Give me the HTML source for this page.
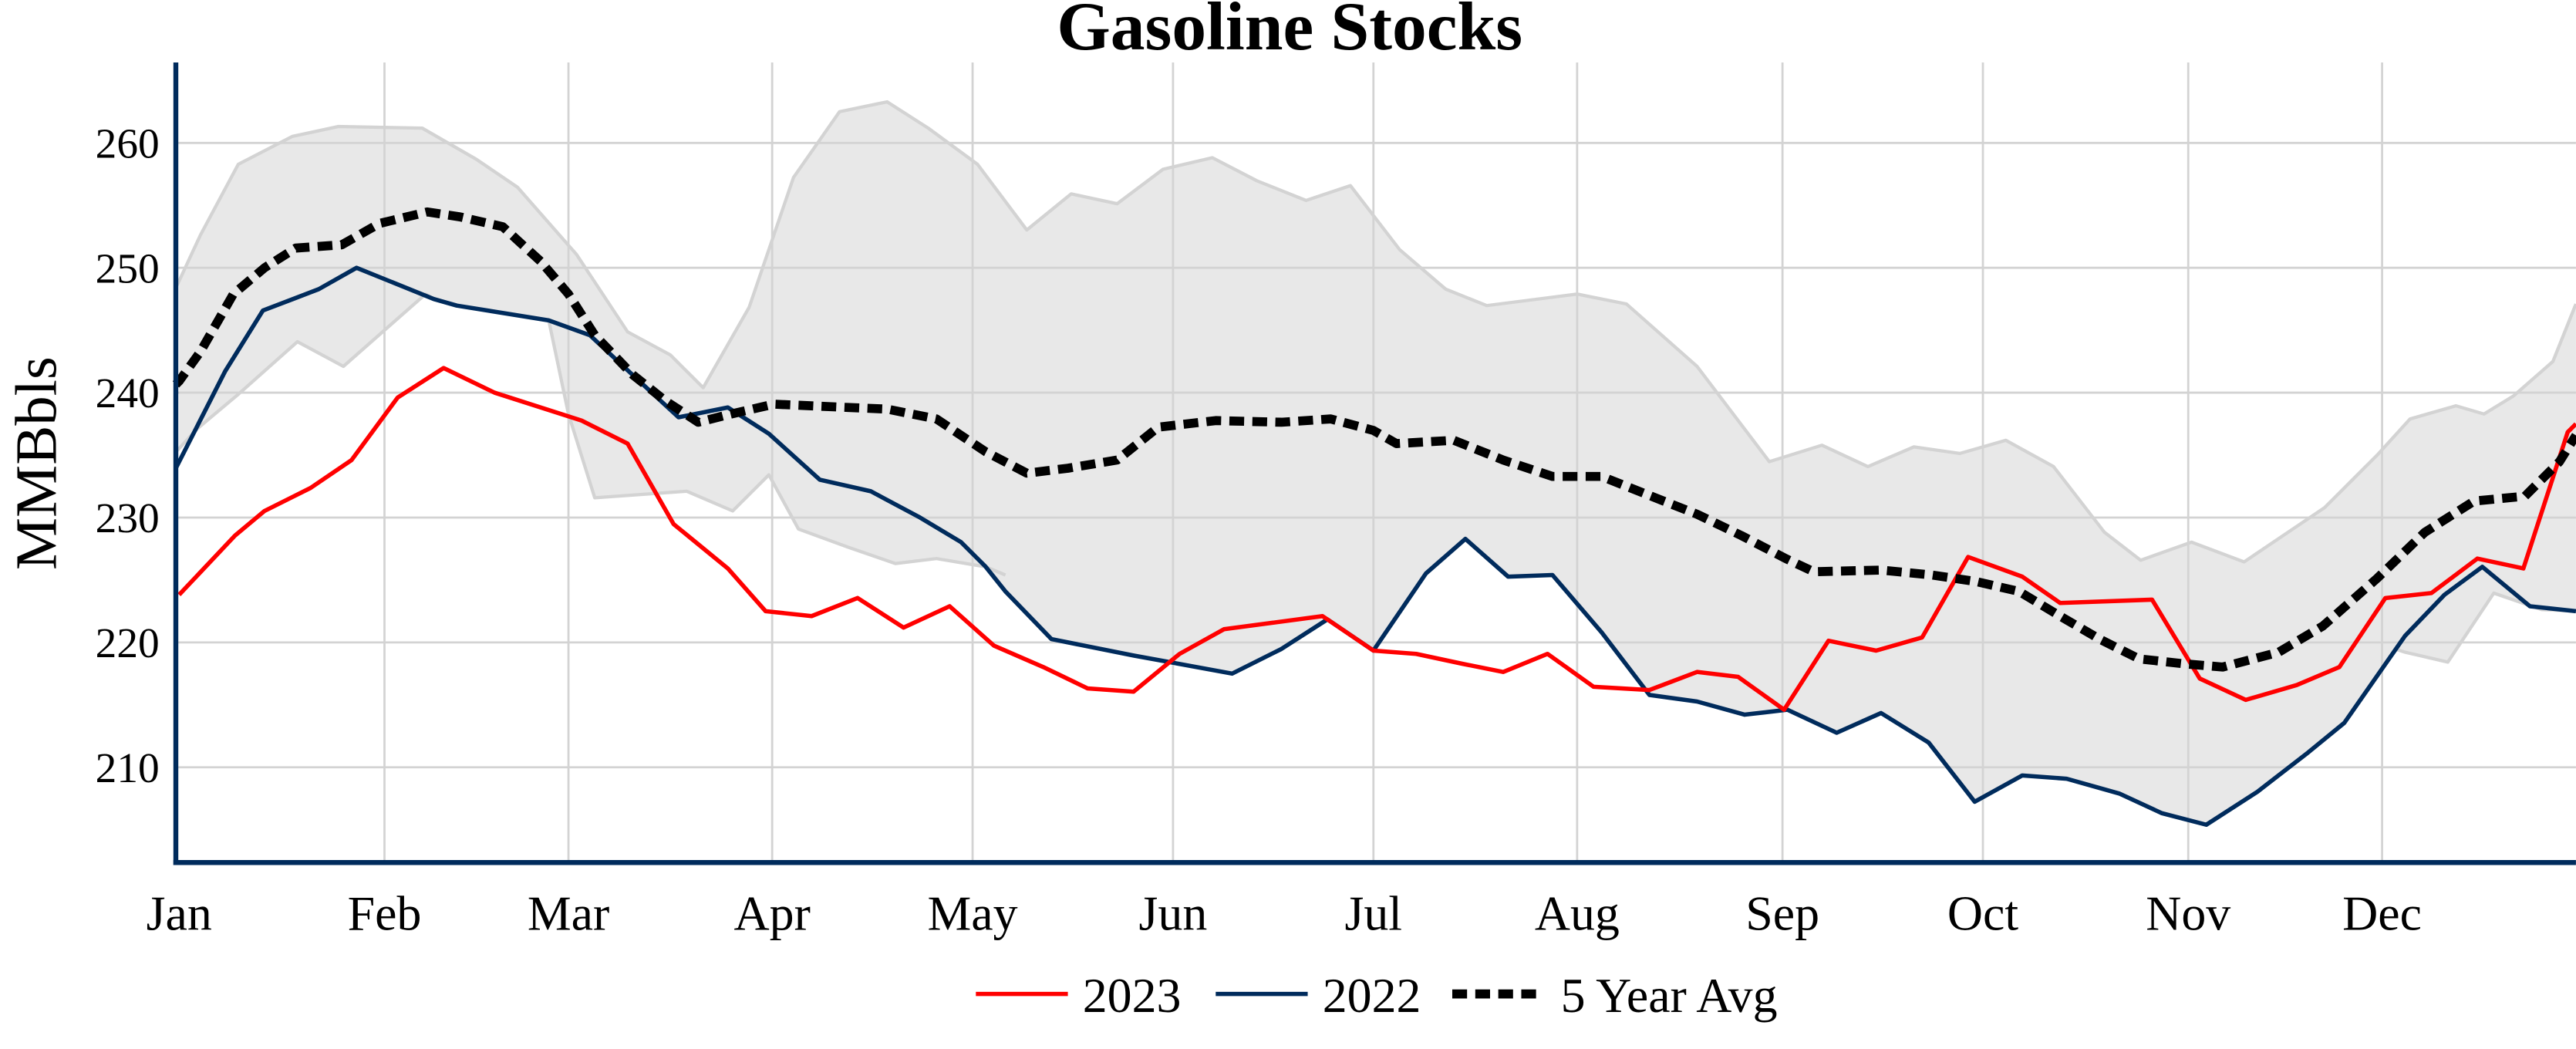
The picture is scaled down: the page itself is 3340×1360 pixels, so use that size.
<!DOCTYPE html>
<html><head><meta charset="utf-8"><style>html,body{margin:0;padding:0;background:#fff}svg{display:block}</style></head>
<body>
<svg width="3340" height="1360" viewBox="0 0 1568 638.5" xmlns="http://www.w3.org/2000/svg" font-family="Liberation Serif, serif">
<rect width="1568" height="638.5" fill="#fff"/>
<!-- band -->
<polygon fill="#e8e8e8" stroke="none" points="109,171 122,143 145,100 178,83 206,77 257,78 290,97 315,114 351,155 382,202 408,216 428,236 456,187 483,108 511,68 540,62 565,78 595,100 625,140 652,118 680,124 708,103 738,96 765,110 795,122 822,113 852,152 880,176 905,186 960,179 990,185 1033,223 1077,281 1109,271 1137,284 1165,272 1193,276 1221,268 1250,284 1281,324 1303,341 1334,330 1366,342 1415,309 1447,277 1467,255 1495,247 1512,252 1530,241 1554,220 1568,185 1568,372 1547,371 1518,361 1490,403 1464,397 1458,395 1427,440 1405,458 1374,482 1343,502 1316,495 1290,483 1258,474 1231,472 1202,488 1174,452 1145,434 1118,446 1088,432 1062,435 1033,427 1004,423 975,385 945,350 918,351 892,328 868,349 836,396 808,377 780,395 750,410 690,399 640,389 612,360 600,345 570,340 545,343 516,333 486,322 468,289 446,311 418,299 362,303 346,252 334,195 278,186 264,182 259,179 209,223 181,208 145,240 120,261 109,273"/>
<!-- grid -->
<g stroke="#d3d3d3" stroke-width="1.3">
<line x1="107" x2="1568" y1="87" y2="87"/><line x1="107" x2="1568" y1="163" y2="163"/><line x1="107" x2="1568" y1="239" y2="239"/><line x1="107" x2="1568" y1="315" y2="315"/><line x1="107" x2="1568" y1="391" y2="391"/><line x1="107" x2="1568" y1="467" y2="467"/>
<line x1="234" x2="234" y1="38" y2="525"/><line x1="346" x2="346" y1="38" y2="525"/><line x1="470" x2="470" y1="38" y2="525"/><line x1="592" x2="592" y1="38" y2="525"/><line x1="714" x2="714" y1="38" y2="525"/><line x1="836" x2="836" y1="38" y2="525"/><line x1="960" x2="960" y1="38" y2="525"/><line x1="1085" x2="1085" y1="38" y2="525"/><line x1="1207" x2="1207" y1="38" y2="525"/><line x1="1332" x2="1332" y1="38" y2="525"/><line x1="1450" x2="1450" y1="38" y2="525"/>
</g>
<!-- band edges -->
<g fill="none" stroke="#d3d3d3" stroke-width="2" stroke-linejoin="round">
<polyline points="107,175 109,171 122,143 145,100 178,83 206,77 257,78 290,97 315,114 351,155 382,202 408,216 428,236 456,187 483,108 511,68 540,62 565,78 595,100 625,140 652,118 680,124 708,103 738,96 765,110 795,122 822,113 852,152 880,176 905,186 960,179 990,185 1033,223 1077,281 1109,271 1137,284 1165,272 1193,276 1221,268 1250,284 1281,324 1303,341 1334,330 1366,342 1415,309 1447,277 1467,255 1495,247 1512,252 1530,241 1554,220 1568,185"/>
<polyline points="107,275 109,273 120,261 145,240 181,208 209,223 259,179 264,182"/>
<polyline points="334,195 346,252 362,303 418,299 446,311 468,289 486,322 516,333 545,343 570,340 600,345 612,350"/>
<polyline points="1458,395 1464,397 1490,403 1518,361 1547,371 1568,372"/>
</g>
<!-- 2022 -->
<polyline fill="none" stroke="#002b5c" stroke-width="2.6" stroke-linejoin="round" points="107,285 137,226 160,189 194,176 217,163 264,182 278,186 334,195 359,204 387,230 413,254 443,248 468,264 499,292 530,299 560,315 585,330 600,345 612,360 640,389 690,399 750,410 780,395 808,377 836,396 868,349 892,328 918,351 945,350 975,385 1004,423 1033,427 1062,435 1088,432 1118,446 1145,434 1174,452 1202,488 1231,472 1258,474 1290,483 1316,495 1343,502 1374,482 1405,458 1427,440 1464,387 1488,362 1511,345 1540,369 1568,372"/>
<!-- 2023 -->
<polyline fill="none" stroke="#ff0000" stroke-width="2.6" stroke-linejoin="round" points="109,362 143,326 161,311 189,297 214,280 242,242 270,224 301,239 354,256 382,270 410,319 443,346 466,372 494,375 522,364 550,382 578,369 605,393 635,406 662,419 690,421 718,398 745,383 775,379 805,375 836,396 862,398 890,404 915,409 942,398 970,418 1004,420 1033,409 1058,412 1086,432 1113,390 1142,396 1170,388 1198,339 1231,351 1254,367 1310,365 1339,413 1367,426 1398,417 1424,406 1452,364 1480,361 1508,340 1536,346 1563,263 1568,258"/>
<!-- 5 year avg -->
<polyline fill="none" stroke="#000" stroke-width="5.5" stroke-dasharray="9,5" stroke-linejoin="round" points="107,234 109,232 122,214 142,179 161,163 180,151 208,149 231,136 260,129 280,132 306,138 329,159 346,179 362,204 385,228 405,244 425,257 445,252 471,246 516,248 540,249 570,255 600,275 625,288 650,285 680,280 705,260 740,256 780,257 810,255 836,262 850,270 885,268 915,280 945,290 975,290 1000,300 1033,313 1060,326 1087,340 1104,348 1145,347 1176,350 1203,354 1229,360 1254,375 1278,389 1302,401 1329,404 1353,406 1387,397 1414,381 1447,352 1476,324 1506,305 1537,302 1558,281 1568,265"/>
<!-- axes -->
<line x1="107" y1="38" x2="107" y2="526.5" stroke="#002b5c" stroke-width="3"/>
<line x1="105.5" y1="525" x2="1568" y2="525" stroke="#002b5c" stroke-width="3"/>
<!-- tick labels -->
<g font-size="26" fill="#000" text-anchor="end">
<text x="97" y="96">260</text><text x="97" y="172">250</text><text x="97" y="248">240</text><text x="97" y="324">230</text><text x="97" y="400">220</text><text x="97" y="476">210</text>
</g>
<g font-size="30" fill="#000" text-anchor="middle">
<text x="109" y="566">Jan</text><text x="234" y="566">Feb</text><text x="346" y="566">Mar</text><text x="470" y="566">Apr</text><text x="592" y="566">May</text><text x="714" y="566">Jun</text><text x="836" y="566">Jul</text><text x="960" y="566">Aug</text><text x="1085" y="566">Sep</text><text x="1207" y="566">Oct</text><text x="1332" y="566">Nov</text><text x="1450" y="566">Dec</text>
</g>
<text x="785" y="30" font-size="42" font-weight="bold" text-anchor="middle">Gasoline Stocks</text>
<text transform="translate(34,282) rotate(-90)" font-size="36" text-anchor="middle">MMBbls</text>
<!-- legend -->
<line x1="594" y1="605" x2="650" y2="605" stroke="#ff0000" stroke-width="2.6"/>
<text x="659" y="616" font-size="30">2023</text>
<line x1="740" y1="605" x2="796" y2="605" stroke="#002b5c" stroke-width="2.6"/>
<text x="805" y="616" font-size="30">2022</text>
<line x1="884" y1="605" x2="940" y2="605" stroke="#000" stroke-width="5.5" stroke-dasharray="9,5"/>
<text x="950" y="616" font-size="30">5 Year Avg</text>
</svg>
</body></html>
